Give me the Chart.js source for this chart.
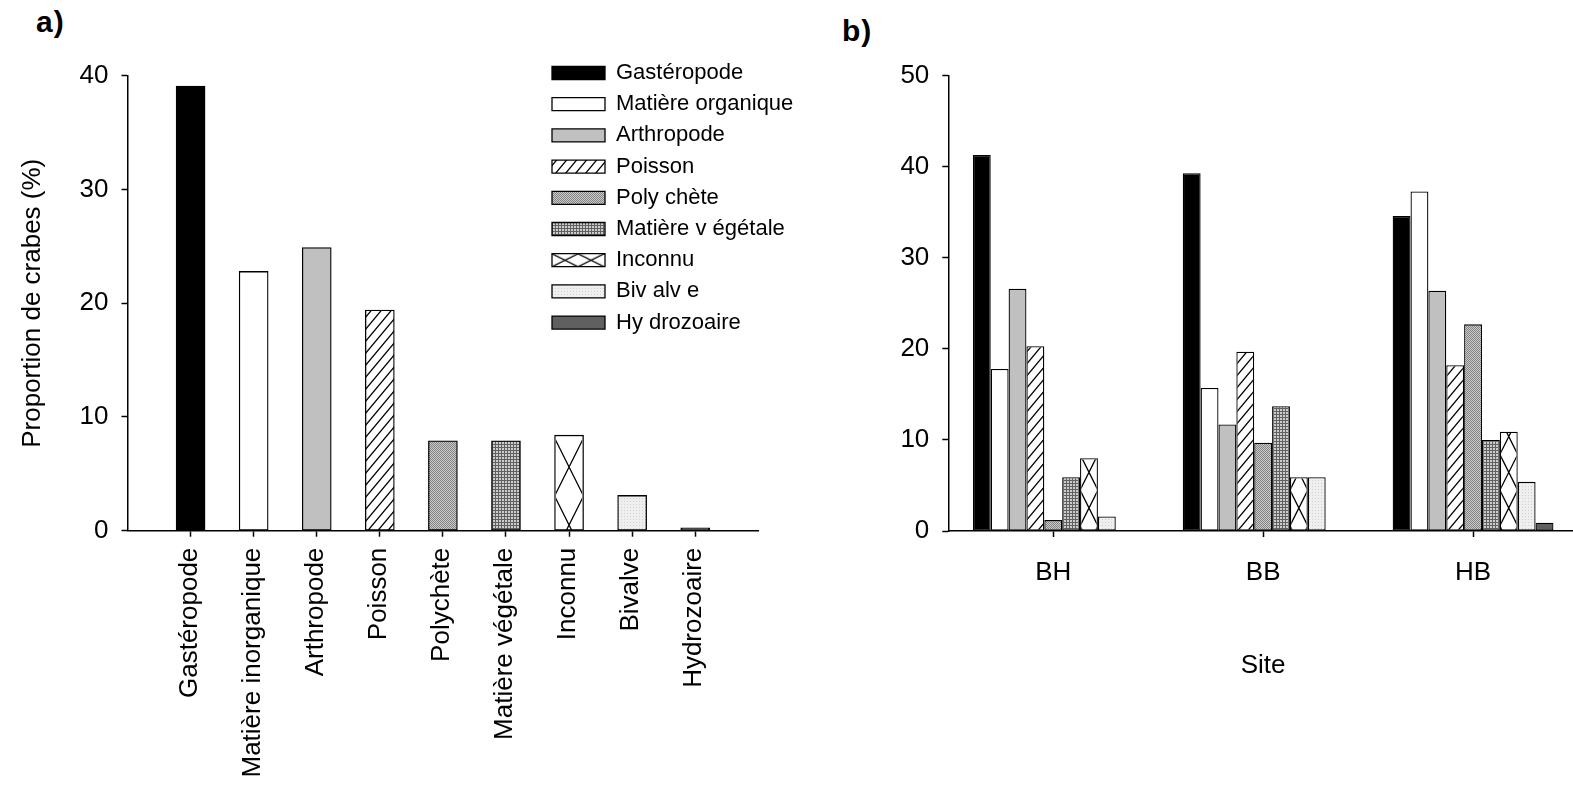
<!DOCTYPE html>
<html lang="fr">
<head>
<meta charset="utf-8">
<title>Régime alimentaire des crabes</title>
<script src="https://cdn.jsdelivr.net/npm/chart.js@4.4.1/dist/chart.umd.min.js"></script>
<style>
  html, body { margin: 0; padding: 0; background: #fff; overflow: hidden; }
  body { width: 1573px; height: 790px; position: relative; font-family: 'Liberation Sans', Arial, sans-serif; }
  .panel { position: absolute; top: 0; height: 790px; }
  #boxA { left: 0; width: 820px; }
  #boxB { left: 820px; width: 780px; }
  .tag { position: absolute; font-weight: bold; font-size: 30px; line-height: 30px; letter-spacing: 1px; }
</style>
</head>
<body>
<div class="tag" style="left:36px; top:7px">a)</div>
<div class="tag" style="left:842px; top:16px">b)</div>
<div class="panel" id="boxA"><canvas id="chartA"></canvas></div>
<div class="panel" id="boxB"><canvas id="chartB"></canvas></div>

<script>
// ---------- données ----------
const categories = ['Gastéropode', 'Matière inorganique', 'Arthropode', 'Poisson', 'Polychète',
                    'Matière végétale', 'Inconnu', 'Bivalve', 'Hydrozoaire'];
const proportions = [39.1, 22.8, 24.9, 19.4, 7.9, 7.9, 8.4, 3.1, 0.25];
const legendNames = ['Gastéropode', 'Matière organique', 'Arthropode', 'Poisson', 'Poly chète',
                     'Matière v égétale', 'Inconnu', 'Biv alv e', 'Hy drozoaire'];
const yTicksA = [0, 10, 20, 30, 40];

const sites = ['BH', 'BB', 'HB'];
const gasteropode = [41.3, 39.3, 34.6];
const matiereOrg  = [17.8, 15.7, 37.3];
const arthropode  = [26.6, 11.7, 26.4];
const poisson     = [20.3, 19.7, 18.2];
const polychete   = [1.2, 9.7, 22.7];
const vegetale    = [5.9, 13.7, 10.0];
const inconnu     = [8.0, 5.9, 10.9];
const bivalve     = [1.6, 5.9, 5.4];
const hydrozoaire = [0, 0, 0.9];
const yTicksB = [0, 10, 20, 30, 40, 50];

Chart.defaults.font.family = "'Liberation Sans', Arial, sans-serif";
Chart.defaults.font.size = 26;
Chart.defaults.color = '#000';

// ---------- motifs de remplissage ----------
function tile(w, h, paint) {
  const c = document.createElement('canvas');
  c.width = w; c.height = h;
  paint(c.getContext('2d'), w, h);
  return c.getContext('2d').createPattern(c, 'repeat');
}

const hatch = tile(10, 12, (g, w, h) => {
  g.fillStyle = '#fff'; g.fillRect(0, 0, w, h);
  g.strokeStyle = '#000'; g.lineWidth = 1.3;
  g.beginPath();
  g.moveTo(-1, h + 1.2); g.lineTo(w + 1, -1.2);
  g.moveTo(-1, 1.2); g.lineTo(1, -1.2);
  g.moveTo(w - 1, h + 1.2); g.lineTo(w + 1, h - 1.2);
  g.stroke();
});

const dots = tile(2, 2, g => {
  g.fillStyle = '#cacaca'; g.fillRect(0, 0, 2, 2);
  g.fillStyle = '#838383'; g.fillRect(0, 0, 1, 1); g.fillRect(1, 1, 1, 1);
});

const grid = tile(3, 3, g => {
  g.fillStyle = '#cdcdcd'; g.fillRect(0, 0, 3, 3);
  g.fillStyle = '#606060'; g.fillRect(0, 0, 3, 1); g.fillRect(0, 0, 1, 3);
});

const pale = tile(3, 3, g => {
  g.fillStyle = '#efefef'; g.fillRect(0, 0, 3, 3);
  g.fillStyle = '#cfcfcf'; g.fillRect(0, 0, 1, 1);
});

const fills = ['#000', '#fff', '#c0c0c0', hatch, dots, grid, '#fff', pale, '#606060'];

// légende placée à la main dans le panneau a)
const LEG_X = 552, LEG_Y = 62, LEG_PAD = 9.2, LEG_FONT = 22, LEG_BOX_H = 13, LEG_BOX_W = 53;

const legendCross = tile(26, 13, (g, w, h) => {
  g.fillStyle = '#fff'; g.fillRect(0, 0, w, h);
  g.strokeStyle = '#000'; g.lineWidth = 1.2;
  g.beginPath();
  g.moveTo(0, 0); g.lineTo(w, h);
  g.moveTo(0, h); g.lineTo(w, 0);
  g.stroke();
});
legendCross.setTransform(new DOMMatrix().translate(
  LEG_X, LEG_Y + 6 * (LEG_FONT + LEG_PAD) + (LEG_FONT - LEG_BOX_H) / 2));

const legendFills = fills.slice();
legendFills[6] = legendCross;

const legendSpot = {
  id: 'legendSpot',
  afterLayout(chart) {
    Object.assign(chart.legend, {
      left: LEG_X - LEG_PAD, top: LEG_Y - LEG_PAD,
      right: chart.width, bottom: chart.height
    });
  }
};

// croisillons (Inconnu) tracés dans chaque barre
function crossPlugin(phase, isCross) {
  return {
    id: 'croisillons',
    afterDatasetsDraw(chart) {
      const ctx = chart.ctx;
      chart.data.datasets.forEach((ds, di) => {
        chart.getDatasetMeta(di).data.forEach((bar, i) => {
          if (!isCross(di, i)) return;
          const { x, y, base, width } = bar.getProps(['x', 'y', 'base', 'width'], true);
          const left = x - width / 2;
          const b = ds.borderWidth;
          if (base - y <= b) return;
          ctx.save();
          ctx.beginPath();
          ctx.rect(left + b, y + b, width - 2 * b, base - y - b);
          ctx.clip();
          ctx.strokeStyle = '#000';
          ctx.lineWidth = 1.3;
          ctx.beginPath();
          const period = 2 * width;
          let yc = phase - Math.ceil((phase - y) / period + 1) * period;
          for (; yc < base + period; yc += period) {
            ctx.moveTo(left, yc + width); ctx.lineTo(left + width, yc - width);
            ctx.moveTo(left, yc - width); ctx.lineTo(left + width, yc + width);
          }
          ctx.stroke();
          ctx.restore();
        });
      });
    }
  };
}

const axisLine = { color: '#000', width: 1.5 };
const tickMarks = { drawOnChartArea: false, drawTicks: true, tickLength: 6, tickWidth: 1.5, tickColor: '#000', offset: false };

// ---------- a) proportion de crabes par proie ----------
new Chart(document.getElementById('chartA'), {
  type: 'bar',
  data: {
    datasets: [{
      data: proportions.map((v, i) => ({ x: i, y: v })),
      backgroundColor: fills,
      borderColor: '#000',
      borderWidth: 1.3,
      borderSkipped: false,
      barThickness: 29
    }]
  },
  options: {
    responsive: true,
    maintainAspectRatio: false,
    animation: false,
    devicePixelRatio: 1,
    layout: { padding: { left: 17.4, top: 75.8, right: 61.7, bottom: 0 } },
    scales: {
      x: {
        type: 'linear', min: -1, max: 9, offset: false,
        afterBuildTicks: s => { s.ticks = categories.map((c, i) => ({ value: i })); },
        afterFit: s => { s.height = 790 - 530.7; },
        grid: tickMarks,
        border: axisLine,
        ticks: {
          autoSkip: false, maxRotation: 90, minRotation: 90,
          padding: 11, labelOffset: -1,
          callback: v => categories[v]
        }
      },
      y: {
        min: 0, max: 40,
        afterBuildTicks: s => { s.ticks = yTicksA.map(v => ({ value: v })); },
        afterFit: s => { s.width = 127.5 - 17.4; },
        grid: tickMarks,
        border: axisLine,
        ticks: { padding: 13 },
        title: { display: true, text: 'Proportion de crabes (%)', padding: 0 }
      }
    },
    plugins: {
      tooltip: { enabled: false },
      legend: {
        position: 'chartArea',
        align: 'start',
        onClick: null,
        labels: {
          boxWidth: LEG_BOX_W, boxHeight: LEG_BOX_H, padding: LEG_PAD,
          font: { size: LEG_FONT }, color: '#000', textAlign: 'left',
          generateLabels: () => legendNames.map((t, i) => ({
            text: t, fillStyle: legendFills[i], strokeStyle: '#000',
            lineWidth: 1.3, hidden: false, index: i, datasetIndex: 0
          }))
        }
      }
    }
  },
  plugins: [legendSpot, crossPlugin(525, (di, i) => i === 6)]
});

// ---------- b) par site ----------
const seriesB = [gasteropode, matiereOrg, arthropode, poisson, polychete, vegetale, inconnu, bivalve, hydrozoaire];

new Chart(document.getElementById('chartB'), {
  type: 'bar',
  data: {
    labels: sites,
    datasets: seriesB.map((vals, k) => ({
      label: legendNames[k],
      data: vals,
      backgroundColor: fills[k],
      borderColor: '#000',
      borderWidth: 1.3,
      borderSkipped: false,
      categoryPercentage: 0.766,
      barPercentage: 1
    }))
  },
  options: {
    responsive: true,
    maintainAspectRatio: false,
    animation: false,
    devicePixelRatio: 1,
    layout: { padding: { left: 0, top: 75.8, right: 22, bottom: 108.4 } },
    scales: {
      x: {
        afterFit: s => { s.height = 681.6 - 531; },
        grid: tickMarks,
        border: axisLine,
        ticks: { padding: 20, maxRotation: 0 },
        title: { display: true, text: 'Site', padding: 0 }
      },
      y: {
        min: 0, max: 50,
        afterBuildTicks: s => { s.ticks = yTicksB.map(v => ({ value: v })); },
        afterFit: s => { s.width = 128.3; },
        grid: tickMarks,
        border: axisLine,
        ticks: { padding: 13 }
      }
    },
    plugins: {
      tooltip: { enabled: false },
      legend: { display: false }
    }
  },
  plugins: [crossPlugin(508, (di, i) => di === 6)]
});
</script>
</body>
</html>
